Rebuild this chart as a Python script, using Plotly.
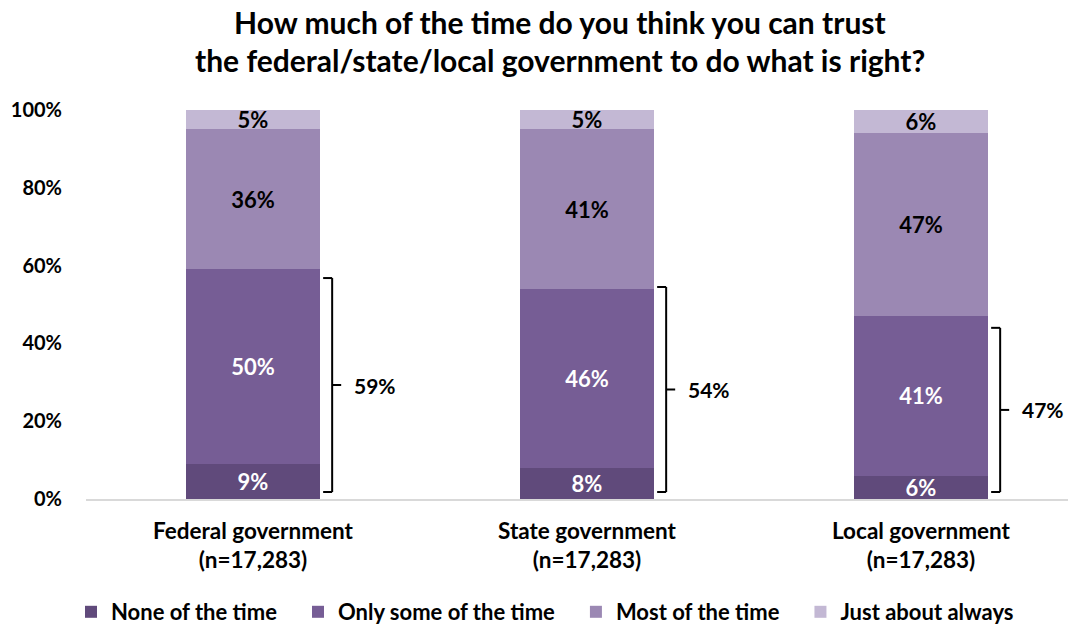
import plotly.graph_objects as go

categories = ["Federal government<br>(n=17,283)",
              "State government<br>(n=17,283)",
              "Local government<br>(n=17,283)"]
series_names = ["None of the time", "Only some of the time",
                "Most of the time", "Just about always"]
none_of_the_time = [9, 8, 6]
only_some_of_the_time = [50, 46, 41]
most_of_the_time = [36, 41, 47]
just_about_always = [5, 5, 6]
y_ticks = [0, 20, 40, 60, 80, 100]
y_tick_labels = ["0%", "20%", "40%", "60%", "80%", "100%"]

series_values = [none_of_the_time, only_some_of_the_time,
                 most_of_the_time, just_about_always]
colors = ["#604A7B", "#765D95", "#9B88B3", "#C3B8D4"]
text_colors = ["white", "white", "black", "black"]
FONT = "Lato"
NB = "\u00a0"

# The page body has an 8px default margin, so the figure is 8px smaller
# and all layout positions are measured from the figure's own corner.
W, H = 1068, 620
PL, PT, PW, PH = 78, 102, 990, 389

xs = list(range(len(categories)))
fig = go.Figure()
for name, vals, col, tcol in zip(series_names, series_values, colors, text_colors):
    fig.add_trace(go.Bar(
        x=xs, y=vals, name=name + NB * 3, width=0.4,
        marker=dict(color=col, line=dict(width=0)),
        text=[f"{v}%" for v in vals], textposition="inside",
        insidetextanchor="middle", constraintext="none",
        textfont=dict(family=FONT, size=22, color=tcol, weight="bold"),
        hoverinfo="skip",
    ))

# brackets for "none + only some"
shapes = []
annotations = []
top_pad = [2.2, -0.5, 3.0]
bot = 1.8
for i in xs:
    total = none_of_the_time[i] + only_some_of_the_time[i]
    top = total - top_pad[i]
    mid = (top + bot) / 2
    xa, xb, xc = i + 0.21, i + 0.237, i + 0.264
    line = dict(color="black", width=2)
    for (x0, y0, x1, y1) in [(xa, bot, xb, bot), (xb, bot, xb, top),
                             (xa, top, xb, top), (xb, mid, xc, mid)]:
        shapes.append(dict(type="line", xref="x", yref="y", x0=x0, y0=y0,
                           x1=x1, y1=y1, line=line))
    annotations.append(dict(x=i + 0.365, y=mid, xref="x", yref="y",
                            text=f"{total}%", showarrow=False,
                            font=dict(family=FONT, size=21, color="black", weight="bold")))

title_lines = ["How much of the time do you think you can trust",
               "the federal/state/local government to do what is right?"]
# title line centres, in pixels from the figure top
for line_txt, ypix in zip(title_lines, [14, 52]):
    annotations.append(dict(x=(552 - PL) / PW, y=(PT + PH - ypix) / PH,
                            xref="paper", yref="paper", text=line_txt,
                            showarrow=False, xanchor="center", yanchor="middle",
                            font=dict(family=FONT, size=30, color="black", weight="bold")))

fig.update_layout(
    width=W, height=H,
    margin=dict(l=PL, r=W - PL - PW, t=PT, b=H - PT - PH, pad=0, autoexpand=False),
    paper_bgcolor="white", plot_bgcolor="white",
    barmode="stack", bargap=0.6,
    showlegend=True,
    legend=dict(orientation="h", x=(545 - PL) / PW, xanchor="center",
                y=(PT + PH - 604) / PH, yanchor="middle",
                font=dict(family=FONT, size=22, color="black", weight="bold"),
                itemwidth=30, traceorder="normal"),
    xaxis=dict(range=[-0.5, -0.5 + PW / 334], tickmode="array", tickvals=xs,
               ticktext=categories, showline=True, linecolor="#D9D9D9",
               linewidth=1.5, showgrid=False, zeroline=False, ticks="",
               ticklabelstandoff=11,
               tickfont=dict(family=FONT, size=22.5, color="black", weight="bold")),
    yaxis=dict(range=[0, 100], tickmode="array", tickvals=y_ticks,
               ticktext=y_tick_labels, showgrid=False, zeroline=False,
               showline=False, ticks="", ticklabelstandoff=23,
               tickfont=dict(family=FONT, size=20, color="black", weight="bold")),
    shapes=shapes, annotations=annotations,
    font=dict(family=FONT),
)

fig.write_html("out.html")
